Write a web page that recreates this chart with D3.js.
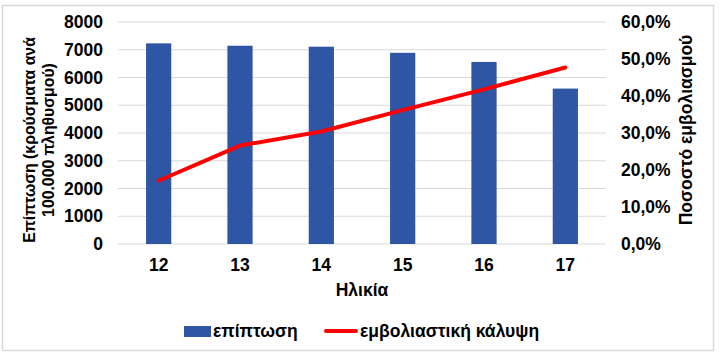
<!DOCTYPE html>
<html>
<head>
<meta charset="utf-8">
<script src="https://cdn.jsdelivr.net/npm/d3@7/dist/d3.min.js"></script>
<style>
  body { margin: 0; background: #fff; }
  text { font-family: "Liberation Sans", Arial, sans-serif; font-weight: bold; fill: #000; }
</style>
</head>
<body>
<div id="root"></div>
<script>
var w = 720, h = 359;
var ages = ['12', '13', '14', '15', '16', '17'];
var incidence = [7230, 7145, 7110, 6890, 6560, 5600];
var coverage = [0.171, 0.266, 0.304, 0.362, 0.418, 0.477];
var leftTicks = [0, 1000, 2000, 3000, 4000, 5000, 6000, 7000, 8000];
var rightTicks = [0, 0.1, 0.2, 0.3, 0.4, 0.5, 0.6];

var margin = { left: 118, right: 606, top: 22, bottom: 244 };
var font = '"Liberation Sans", Arial, sans-serif';

var svg = d3.select('#root').append('svg').attr('width', w).attr('height', h);

svg.append('rect')
    .attr('x', 2.5).attr('y', 5.5)
    .attr('width', 711).attr('height', 345)
    .attr('fill', '#fff')
    .attr('stroke', '#d9d9d9')
    .attr('stroke-width', 1.5);

var x = d3.scaleBand().domain(ages).range([margin.left, margin.right]).paddingInner(0.69).paddingOuter(0.345);
var yL = d3.scaleLinear().domain([0, 8000]).range([margin.bottom, margin.top]);
var yR = d3.scaleLinear().domain([0, 0.6]).range([margin.bottom, margin.top]);

// grid
svg.append('g')
    .selectAll('line')
    .data(leftTicks)
    .enter()
    .append('line')
    .attr('x1', margin.left).attr('x2', margin.right)
    .attr('y1', function (d) { return yL(d); })
    .attr('y2', function (d) { return yL(d); })
    .attr('stroke', '#d9d9d9')
    .attr('stroke-width', 1);

function styleAxis(g) {
    g.select('.domain').remove();
    g.selectAll('text')
        .attr('font-size', 17.5)
        .style('font-family', font)
        .attr('font-weight', 'bold')
        .attr('fill', '#000');
}

// left axis
var axL = svg.append('g')
    .attr('transform', 'translate(' + (margin.left - 15) + ',0)')
    .call(d3.axisLeft(yL).tickValues(leftTicks).tickSize(0).tickPadding(0).tickFormat(d3.format('d')));
styleAxis(axL);

// right axis
var fmtPct = function (d) { return d3.format('.1f')(d * 100).replace('.', ',') + '%'; };
var axR = svg.append('g')
    .attr('transform', 'translate(' + (margin.right + 15) + ',0)')
    .call(d3.axisRight(yR).tickValues(rightTicks).tickSize(0).tickPadding(0).tickFormat(fmtPct));
styleAxis(axR);

// bottom axis
var axB = svg.append('g')
    .attr('transform', 'translate(0,' + margin.bottom + ')')
    .call(d3.axisBottom(x).tickSize(0).tickPadding(15));
styleAxis(axB);

// bars
svg.append('g')
    .selectAll('rect')
    .data(incidence)
    .enter()
    .append('rect')
    .attr('x', function (d, i) { return x(ages[i]); })
    .attr('y', function (d) { return yL(d); })
    .attr('width', x.bandwidth())
    .attr('height', function (d) { return yL(0) - yL(d); })
    .attr('fill', '#2f55a5');

// line
var line = d3.line()
    .x(function (d, i) { return x(ages[i]) + x.bandwidth() / 2; })
    .y(function (d) { return yR(d); });
svg.append('path')
    .datum(coverage)
    .attr('d', line)
    .attr('fill', 'none')
    .attr('stroke', '#ff0000')
    .attr('stroke-width', 4)
    .attr('stroke-linecap', 'round')
    .attr('stroke-linejoin', 'round');

// titles
var leftTitle = svg.append('text')
    .attr('transform', 'translate(35,140) rotate(-90)')
    .attr('text-anchor', 'middle')
    .attr('font-size', 15.8);
leftTitle.append('tspan').attr('x', 0).attr('y', 0).text('Επίπτωση (κρούσματα ανά');
leftTitle.append('tspan').attr('x', 0).attr('y', 19).text('100.000 πληθυσμού)');

svg.append('text')
    .attr('transform', 'translate(692,130) rotate(-90)')
    .attr('text-anchor', 'middle')
    .attr('font-size', 17.5)
    .text('Ποσοστό εμβολιασμού');

svg.append('text')
    .attr('x', (margin.left + margin.right) / 2)
    .attr('y', 296)
    .attr('text-anchor', 'middle')
    .attr('font-size', 17.5)
    .text('Ηλικία');

// legend
var lg = svg.append('g');
lg.append('rect').attr('x', 184).attr('y', 326).attr('width', 27).attr('height', 11).attr('fill', '#2f55a5');
lg.append('text').attr('x', 213).attr('y', 337).attr('font-size', 17.5).text('επίπτωση');
lg.append('line').attr('x1', 326).attr('x2', 356).attr('y1', 331).attr('y2', 331)
    .attr('stroke', '#ff0000').attr('stroke-width', 4).attr('stroke-linecap', 'round');
lg.append('text').attr('x', 360).attr('y', 337).attr('font-size', 17.5).text('εμβολιαστική κάλυψη');
</script>
</body>
</html>
